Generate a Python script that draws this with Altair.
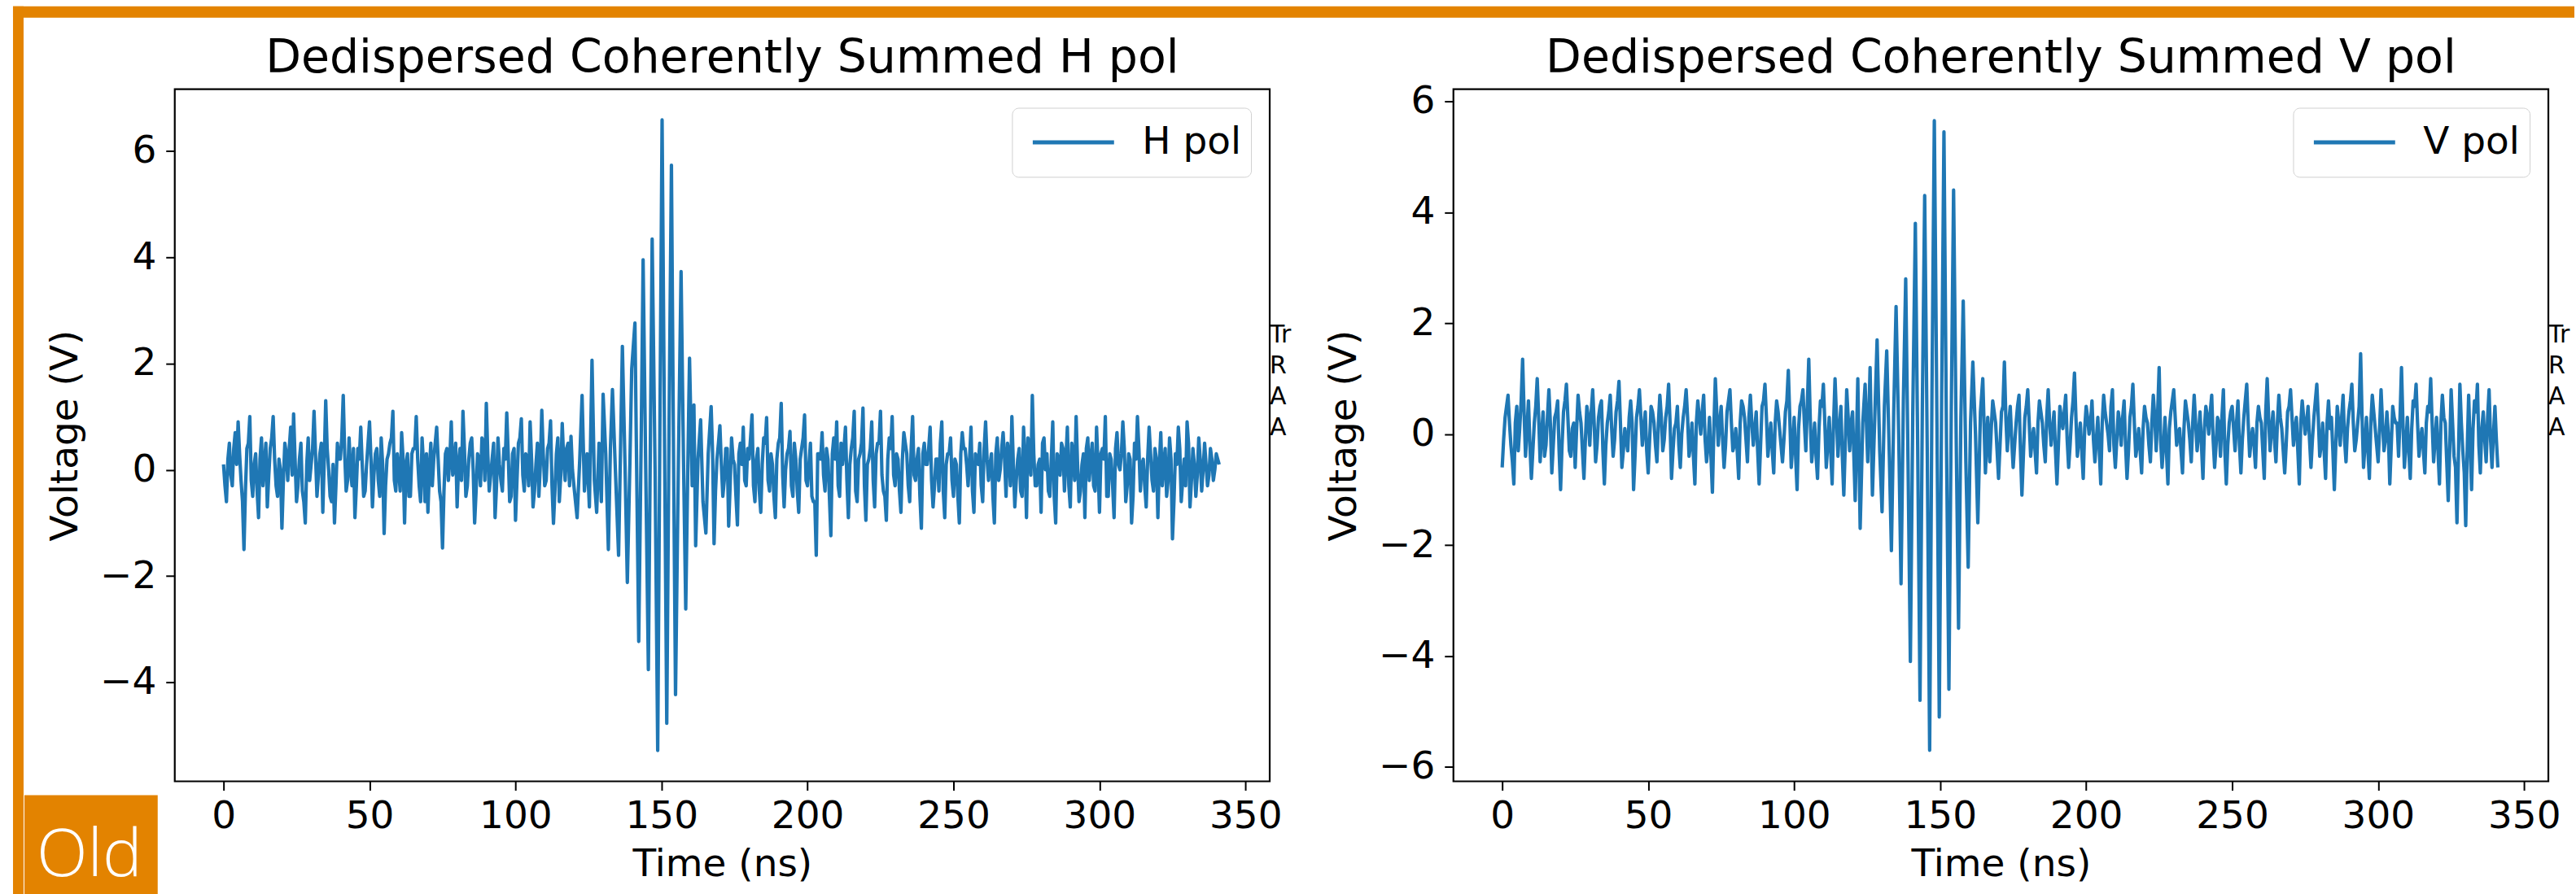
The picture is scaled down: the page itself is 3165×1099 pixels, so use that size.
import altair as alt
import pandas as pd

# ---------------- data ----------------
X_TICKS = [0, 50, 100, 150, 200, 250, 300, 350]
H_YTICKS = [-4, -2, 0, 2, 4, 6]
V_YTICKS = [-6, -4, -2, 0, 2, 4, 6]
X_DOMAIN = [-16.7, 358.3]
H_YDOMAIN = [-5.86, 7.16]
V_YDOMAIN = [-6.26, 6.22]

# H pol: noise before the pulse, samples at t = 0, 1, 2, ... ns
H_EARLY = [0.1, -0.6, 0.5, -0.3, 0.7, 0.9, -0.2, -1.5, 0.4, 1.0,
           -0.5, 0.3, -0.9, 0.6, 0.1, -0.7, 0.4, 1.0, -0.3, 0.2,
           -1.1, 0.5, -0.2, 0.8, 1.05, -0.6, 0.2, -0.4, -1.0, 0.6,
           0.1, 1.1, -0.5, 0.3, -0.8, 1.3, 0.0, -0.6, -1.0, 0.5,
           0.2, 1.4, -0.4, 0.6, -0.3, -0.9, 0.4, 0.8, -0.5, 0.1,
           0.9, -0.7, 0.3, -0.2, 0.6, -1.2, 0.2, 0.5, 1.1, -0.4,
           0.0, 0.7, -1.0, 0.3, -0.5, 0.4, 1.0, -0.3, 0.6, -0.6,
           -0.8, 0.5, 0.2, 0.8, -0.4, -1.47, 0.3, -0.2, 0.9, 0.1,
           -0.7, 0.4, 1.1, -0.5, 0.2, 0.6, -1.0, 0.3, -0.3, 0.5,
           1.25, -0.4, 0.2, -0.9, 0.6, -0.2, 0.4, 1.07, -0.6, 0.3,
           -0.95, 0.5, 0.96, -0.4, 0.2, 0.9, -0.7, 0.1, -0.5, 1.12,
           -0.3, 0.4, 0.92, -1.01, 0.3, -0.6, 0.87, -0.2, 0.5, 0.63]
# H pol: samples in between, at t = 0.5, 1.5, 2.5, ... ns
H_EARLY_MID = [-0.3, 0.2, -0.1, 0.4, 0.1, 0.3, -0.6, -0.4, 0.5, -0.2,
               0.1, -0.4, 0.2, -0.3, 0.5, -0.1, 0.6, 0.2, -0.5, 0.0,
               -0.2, 0.3, 0.4, -0.1, 0.2, -0.3, 0.5, -0.6, 0.1, -0.2,
               0.4, 0.3, -0.1, 0.5, 0.2, 0.4, -0.5, 0.1, -0.3, 0.2,
               0.6, 0.3, -0.2, 0.0, 0.4, -0.3, 0.2, 0.1, -0.4, 0.5,
               0.2, -0.1, 0.4, -0.5, 0.1, -0.3, 0.3, 0.6, -0.2, 0.3,
               -0.4, 0.2, 0.1, -0.5, 0.3, 0.4, 0.2, -0.6, 0.1, 0.3,
               0.0, -0.3, 0.5, 0.2, -0.6, -0.4, 0.4, 0.2, -0.1, 0.5,
               0.1, -0.2, 0.4, -0.3, 0.5, 0.0, -0.4, 0.2, 0.6, -0.2,
               0.3, -0.1, 0.5, -0.3, 0.1, -0.4, 0.2, 0.3, -0.5, 0.4,
               -0.2, 0.6, -0.1, 0.3, -0.3, 0.2, -0.4, 0.5, 0.1, 0.3,
               -0.2, 0.5, -0.3, -0.4, 0.6, -0.1, 0.2, 0.4, -0.3, 0.0]
# H pol: the pulse, read at finer times
H_PULSE_T = [120.0, 121.1, 122.0, 122.8, 123.6, 124.5, 125.3, 126.2, 127.0, 127.8,
             128.6, 129.4, 130.0, 130.9, 131.8, 132.5, 133.2, 134.2, 135.3, 136.0,
             136.6, 137.5, 138.3, 139.2, 139.8, 140.9, 141.6, 142.2, 143.0, 143.7,
             144.6, 145.5, 146.2, 146.8, 147.8, 148.7, 149.5, 150.2, 151.0, 151.8,
             152.6, 153.4, 154.1, 154.8, 155.8, 156.7, 157.5, 158.3, 159.0, 159.6,
             160.5, 161.1, 161.7, 162.5, 163.4, 164.2, 165.2, 166.0]
H_PULSE_V = [-0.3, -0.9, 0.2, 1.40, -0.4, 0.3, -0.7, 2.06, -0.2, -0.8,
             0.5, -0.6, 1.42, 0.3, -1.50, 0.4, 1.51, 0.0, -1.61, 0.5,
             2.32, 0.1, -2.12, 0.2, 1.9, 2.76, -0.5, -3.23, 0.4, 3.95,
             0.0, -3.76, 0.6, 4.34, 0.0, -5.28, 1.2, 6.58, 0.8, -4.77,
             0.9, 5.73, 0.4, -4.23, 0.2, 3.73, 0.3, -2.62, 0.0, 2.10,
             -0.3, 1.22, -1.43, 0.2, 0.94, -0.6, -1.19, 0.3]
# H pol: noise after the pulse, samples at t = 167, 168, ... ns
H_LATE = [1.19, -1.39, 0.2, 0.83, -0.5, 0.4, -1.06, 0.6, 0.1, -1.04,
          0.5, 0.8, -0.3, 0.2, 1.03, -0.6, 0.4, -0.8, 0.6, 0.98,
          -0.4, 0.1, -0.9, 0.5, 1.25, -0.7, 0.3, 0.72, -0.5, 0.2,
          -0.8, 0.4, 1.03, -0.3, 0.5, -0.6, -1.61, 0.3, 0.7, -0.4,
          0.2, -1.24, 0.6, 0.9, -0.5, 0.1, 0.8, -0.9, 0.4, 1.1,
          -0.6, 0.3, 1.16, -0.95, 0.2, 0.9, -0.7, 0.5, 1.1, -0.4,
          -0.95, 0.6, 1.0, -0.3, 0.2, -0.8, 0.7, 0.3, -0.6, 1.0,
          -0.2, 0.4, -1.1, 0.5, 0.1, 0.8, -0.7, 0.2, -0.4, 0.9,
          -0.9, 0.3, 0.6, -0.5, 0.1, -1.0, 0.7, 0.4, -0.3, 0.8,
          -0.8, 0.2, 0.5, -0.6, 0.9, -0.2, 0.3, -1.0, 0.6, 0.0,
          0.7, -0.5, 0.3, 1.0, -0.7, 0.2, -0.4, 0.8, -0.9, 0.4,
          1.4, -0.3, 0.1, -0.8, 0.6, 0.3, -0.5, 0.9, -1.0, 0.2,
          0.5, -0.4, 0.8, -0.7, 0.3, 1.0, -0.6, 0.1, -0.9, 0.6,
          0.2, -0.3, 0.8, -0.8, 0.4, 1.0, -0.5, 0.2, -0.9, 0.7,
          0.0, 0.9, -0.6, 0.3, -1.0, 0.5, 1.0, -0.4, 0.2, -0.7,
          0.8, -0.2, 0.4, -0.9, 0.7, 0.1, -0.5, 0.6, -1.3, 0.3,
          0.8, -0.6, 0.2, 0.9, -0.7, 0.4, -0.5, 0.6, -0.4, 0.5,
          -0.3, 0.4, -0.2, 0.3, 0.1]
# H pol: samples in between, at t = 167.5, 168.5, ... ns
H_LATE_MID = [0.3, -0.4, 0.5, 0.1, -0.2, 0.4, -0.3, 0.2, -0.5, 0.3,
              0.1, -0.2, 0.4, 0.6, -0.3, 0.2, -0.4, 0.1, 0.5, -0.2,
              0.3, -0.5, 0.2, 0.6, -0.1, 0.0, 0.4, -0.3, 0.5, -0.4,
              0.2, 0.6, -0.2, 0.1, -0.5, -0.6, 0.3, 0.2, -0.1, 0.4,
              -0.5, 0.3, 0.2, -0.3, 0.5, 0.4, -0.2, 0.1, 0.6, -0.4,
              0.2, 0.5, -0.3, 0.1, 0.4, -0.2, 0.3, 0.5, -0.1, -0.5,
              0.2, 0.4, -0.1, 0.3, -0.4, 0.2, 0.5, -0.3, 0.4, -0.1,
              0.2, -0.5, 0.3, 0.1, 0.4, -0.2, -0.3, 0.2, 0.5, -0.4,
              0.1, 0.3, -0.2, 0.2, -0.5, 0.3, 0.4, 0.1, 0.2, -0.4,
              0.3, 0.1, -0.3, 0.4, 0.2, 0.1, -0.5, 0.3, -0.2, 0.4,
              0.2, 0.5, -0.3, 0.1, -0.2, 0.4, -0.5, 0.2, 0.6, -0.1,
              0.3, -0.3, 0.2, 0.5, 0.0, -0.4, 0.2, -0.5, 0.3, -0.1,
              0.4, 0.2, -0.3, 0.5, -0.2, 0.1, -0.4, 0.3, 0.4, -0.2,
              0.5, -0.4, 0.1, 0.3, 0.2, -0.5, 0.3, -0.3, 0.4, 0.1,
              0.3, 0.4, -0.3, 0.2, -0.5, 0.2, 0.4, 0.1, -0.3, 0.2,
              0.3, -0.4, 0.2, 0.1, -0.3, 0.4, -0.2, 0.2, -0.6, 0.1,
              0.4, -0.2, -0.3, 0.5, -0.2, 0.1, -0.1, 0.2, 0.0, 0.1,
              -0.1, 0.2, 0.0, 0.2]

# V pol
V_EARLY = [-0.6, 0.3, 0.7, -0.2, -0.9, 0.5, 0.1, 1.35, -0.4, 0.6,
           -0.8, 0.2, 1.0, -0.5, 0.4, -0.2, 0.8, -0.7, 0.3, 0.6,
           -1.0, 0.4, 0.9, -0.3, 0.1, -0.6, 0.7, 0.2, -0.8, 0.5,
           -0.2, 0.8, -0.5, 0.3, 0.6, -0.9, 0.2, 0.7, -0.4, 0.4,
           0.95, -0.6, 0.1, -0.3, 0.6, -1.0, 0.3, 0.8, -0.2, 0.4,
           -0.7, 0.5, 0.2, -0.5, 0.7, -0.3, 0.3, 0.9, -0.8, 0.1,
           0.5, -0.6, 0.3, 0.8, -0.4, 0.2, -0.9, 0.6, 0.0, 0.7,
           -0.5, 0.3, -1.05, 1.0, -0.2, 0.5, -0.6, 0.4, 0.8, -0.3,
           0.1, -0.8, 0.6, 0.3, -0.5, 0.7, -0.2, 0.4, -0.9, 0.5,
           0.9, -0.4, 0.2, -0.7, 0.6, 0.1, -0.5, 0.4, 1.15, -0.6,
           0.3, -1.0, 0.5, 0.8, -0.3, 1.35, -0.5, 0.2, -0.8, 0.6,
           0.9, -0.6, 0.3, -0.9, 1.0, -0.4, 0.5, -1.1, 0.8, -0.3]
V_EARLY_MID = [-0.1, 0.5, 0.2, -0.5, 0.2, -0.3, 0.6, 0.4, 0.1, -0.2,
               -0.3, 0.5, 0.3, 0.0, -0.4, 0.3, 0.2, -0.2, 0.4, -0.3,
               -0.2, 0.6, 0.3, -0.4, 0.2, 0.1, 0.4, -0.3, -0.1, 0.3,
               0.4, 0.2, -0.2, 0.5, -0.3, -0.2, 0.4, 0.1, -0.1, 0.6,
               0.2, -0.3, -0.1, 0.3, 0.2, -0.4, 0.5, 0.3, 0.1, -0.3,
               -0.1, 0.4, -0.2, 0.2, 0.3, -0.1, 0.5, 0.2, -0.3, 0.2,
               -0.2, 0.0, 0.5, 0.3, -0.2, -0.4, 0.2, 0.3, 0.4, -0.1,
               -0.2, -0.4, 0.1, 0.4, 0.2, -0.1, -0.2, 0.6, 0.2, -0.2,
               -0.3, 0.2, 0.5, -0.1, 0.3, 0.2, 0.1, -0.3, -0.2, 0.6,
               0.3, -0.1, -0.3, 0.2, 0.4, -0.2, -0.1, 0.6, 0.3, -0.2,
               -0.4, 0.1, 0.6, 0.2, 0.5, 0.3, -0.2, -0.4, 0.1, 0.5,
               0.2, -0.2, -0.3, 0.2, 0.3, 0.1, -0.4, -0.2, 0.3, 0.2]
V_PULSE_T = [120.0, 120.9, 121.8, 122.6, 123.5, 124.3, 125.2, 126.0, 126.8, 127.6,
             128.4, 129.3, 130.1, 130.9, 131.7, 132.6, 133.3, 134.1, 134.9, 135.8,
             136.6, 137.4, 138.2, 139.0, 139.8, 140.6, 141.5, 142.3, 143.1, 143.9,
             144.7, 145.6, 146.4, 147.2, 148.0, 148.9, 149.7, 150.5, 151.3, 152.2,
             153.0, 153.8, 154.6, 155.5, 156.3, 157.1, 157.9, 158.8, 159.6, 160.4,
             161.2, 162.1, 162.9, 163.8, 164.6, 165.5, 166.3]
V_PULSE_V = [0.4, -1.2, 1.0, -1.7, 0.2, 0.9, -0.5, 1.2, -1.1, 0.3,
             1.7, -0.3, -1.4, 0.5, 1.5, -0.4, -2.1, 0.4, 2.3, 0.0,
             -2.7, 0.6, 2.8, -0.5, -4.1, 0.3, 3.8, -0.2, -4.8, 0.5,
             4.3, -0.4, -5.7, 0.8, 5.65, 0.2, -5.1, 0.6, 5.45, -0.3,
             -4.6, 0.4, 4.4, -0.1, -3.5, 0.3, 2.4, -0.5, -2.4, 0.2,
             1.3, 0.0, -1.6, 0.4, 1.0, -0.7, 0.3]
V_LATE = [-0.5, 0.6, 0.2, -0.8, 0.4, 1.3, -0.3, 0.5, -0.6, 0.2,
          0.7, -1.1, 0.3, 0.8, -0.4, 0.1, -0.7, 0.6, 0.2, -0.5,
          0.8, -0.2, 0.4, -0.9, 0.5, 0.1, 0.7, -0.6, 0.3, 1.1,
          -0.4, 0.2, -0.8, 0.5, 0.0, 0.6, -0.5, 0.3, -0.9, 0.7,
          0.2, -0.3, 0.8, -0.6, 0.4, -0.2, 0.6, -0.8, 0.3, 0.9,
          -0.4, 0.1, -0.7, 0.5, 0.2, -0.5, 0.7, -0.3, 1.2, -0.6,
          0.3, -0.9, 0.4, 0.8, -0.2, 0.1, -0.7, 0.6, 0.2, -0.5,
          0.7, -0.3, 0.4, -0.8, 0.5, 0.0, 0.7, -0.6, 0.3, -0.4,
          0.8, -0.9, 0.2, 0.5, -0.3, 0.6, -0.7, 0.3, 0.9, -0.4,
          0.1, -0.6, 0.5, 0.2, -0.8, 1.0, -0.3, 0.4, -0.5, 0.7,
          0.1, -0.7, 0.4, 0.8, -0.2, 0.3, -0.9, 0.6, 0.0, 0.5,
          -0.6, 0.3, 0.9, -0.4, 0.2, -0.8, 0.6, 0.3, -1.0, 0.5,
          -0.2, 0.7, -0.5, 0.4, 0.9, -0.3, 0.2, 1.45, -0.6, 0.3,
          -0.8, 0.7, 0.1, -0.5, 0.8, -0.3, 0.4, -0.9, 0.5, 0.2,
          -0.4, 1.2, -0.6, 0.3, -0.8, 0.6, 0.9, -0.4, 0.1, -0.7,
          0.5, 1.0, -0.5, 0.3, -0.9, 0.7, 0.2, -1.2, 0.8, -0.4,
          -1.6, 0.9, -0.3, -1.65, 0.7, -1.0, 0.6, 0.9, -0.7, 0.4,
          -0.5, 0.8, -0.6, 0.5, -0.6]
V_LATE_MID = [0.1, 0.4, -0.3, -0.2, 0.5, 0.3, 0.2, -0.1, -0.2, 0.5,
              -0.3, -0.4, 0.5, 0.2, -0.1, -0.3, 0.2, 0.4, -0.2, 0.3,
              0.2, 0.1, -0.3, -0.2, 0.3, 0.4, -0.1, -0.2, 0.6, 0.3,
              -0.1, -0.3, 0.1, 0.3, 0.2, -0.1, -0.1, -0.3, 0.2, 0.4,
              0.0, 0.5, -0.2, -0.1, 0.2, 0.3, -0.2, -0.3, 0.5, 0.2,
              -0.2, -0.3, 0.1, 0.3, -0.2, 0.2, 0.3, 0.4, -0.1, -0.2,
              -0.3, 0.1, 0.6, 0.3, 0.0, -0.3, 0.1, 0.4, -0.1, 0.2,
              0.2, 0.0, -0.2, 0.1, 0.3, 0.4, -0.1, -0.2, 0.2, 0.3,
              -0.3, -0.2, 0.4, 0.1, 0.2, -0.2, -0.1, 0.6, 0.2, -0.1,
              -0.2, 0.2, 0.3, -0.3, 0.4, 0.3, 0.1, -0.1, 0.2, 0.3,
              -0.3, -0.2, 0.5, 0.3, 0.1, -0.3, 0.2, 0.3, 0.2, -0.1,
              -0.1, 0.6, 0.3, -0.2, -0.3, 0.2, 0.1, -0.3, -0.2, 0.2,
              0.3, -0.1, 0.1, 0.6, 0.2, -0.1, 0.5, 0.3, -0.2, -0.3,
              0.2, 0.4, -0.2, 0.1, 0.2, -0.1, 0.0, -0.2, 0.3, 0.2,
              0.3, 0.2, -0.2, -0.3, 0.1, 0.5, 0.2, -0.1, -0.3, 0.2,
              0.4, 0.2, -0.1, -0.3, 0.2, 0.3, -0.5, -0.3, 0.2, -0.6,
              -0.4, 0.2, -0.7, -0.3, -0.2, 0.1, 0.4, -0.2, 0.1, -0.1,
              0.3, -0.1, 0.0, -0.1]

ANN_LINES = ["Triggered", "Received", "Average", "Angle"]

# ---------------- styling ----------------
FONT = "DejaVu Sans"
ORANGE = "#E38300"
BLUE = "#1f77b4"
W, H = 1347, 852
LATE_START = 167


def series(early, early_mid, pt, pv, late, late_mid):
    t = (list(range(len(early)))
         + [i + 0.5 for i in range(len(early_mid))]
         + list(pt)
         + list(range(LATE_START, LATE_START + len(late)))
         + [LATE_START + i + 0.5 for i in range(len(late_mid))])
    v = list(early) + list(early_mid) + list(pv) + list(late) + list(late_mid)
    return pd.DataFrame({"t": t, "v": v}).sort_values("t")


one = pd.DataFrame({"a": [0]})


def panel(df, label, title, ydom, yticks, ann_limit, decorate=False):
    df = df.assign(s=label)
    line = alt.Chart(df).mark_line(strokeWidth=4.2, strokeJoin="round").encode(
        x=alt.X("t:Q",
                scale=alt.Scale(domain=X_DOMAIN, nice=False, zero=False),
                axis=alt.Axis(values=X_TICKS, title="Time (ns)", titleY=116,
                              titleBaseline="alphabetic", labelFlush=False,
                              labelOverlap=False, labelPadding=9)),
        y=alt.Y("v:Q",
                scale=alt.Scale(domain=ydom, nice=False, zero=False),
                axis=alt.Axis(values=yticks, title="Voltage (V)", titleX=-120,
                              titleBaseline="alphabetic", labelOverlap=False,
                              labelPadding=12)),
        order=alt.Order("t:Q"),
        color=alt.Color("s:N", scale=alt.Scale(range=[BLUE]),
                        legend=alt.Legend(title=None, orient="top-right", offset=23,
                                          padding=12, clipHeight=61,
                                          fillColor="rgba(255,255,255,0.8)",
                                          strokeColor="#d0d0d0", cornerRadius=8,
                                          symbolType="M-1,0H9", symbolSize=400,
                                          symbolStrokeWidth=5, labelFont=FONT,
                                          labelFontSize=47, labelColor="black",
                                          labelOffset=101)),
    )
    ttl = alt.Chart(one).mark_text(text=title, font=FONT, fontSize=57, color="black",
                                   align="center", baseline="alphabetic").encode(
        x=alt.value(W / 2), y=alt.value(-21))
    ann = alt.Chart(one).mark_text(align="left", baseline="top", font=FONT, fontSize=30,
                                   lineHeight=38, limit=ann_limit, ellipsis="\u200b",
                                   color="black").encode(
        x=alt.value(W), y=alt.value(288), text=alt.value(ANN_LINES))
    layers = []
    if decorate:
        layers += [
            alt.Chart(one).mark_rect(color=ORANGE).encode(
                x=alt.value(-199), x2=alt.value(-186), y=alt.value(-102), y2=alt.value(992)),
            alt.Chart(one).mark_rect(color=ORANGE).encode(
                x=alt.value(-199), x2=alt.value(2952), y=alt.value(-102), y2=alt.value(-88)),
            alt.Chart(one).mark_rect(color=ORANGE).encode(
                x=alt.value(-185), x2=alt.value(-21), y=alt.value(869), y2=alt.value(992)),
            alt.Chart(one).mark_text(text="Old", color="white", font="Open Sans",
                                     fontSize=82, fontWeight=300, align="left",
                                     baseline="alphabetic").encode(
                x=alt.value(-170), y=alt.value(969)),
        ]
    layers += [line, ttl, ann]
    return alt.layer(*layers).properties(width=W, height=H)


left = panel(series(H_EARLY, H_EARLY_MID, H_PULSE_T, H_PULSE_V, H_LATE, H_LATE_MID),
             "H pol", "Dedispersed Coherently Summed H pol", H_YDOMAIN, H_YTICKS, 32,
             decorate=True)
right = panel(series(V_EARLY, V_EARLY_MID, V_PULSE_T, V_PULSE_V, V_LATE, V_LATE_MID),
              "V pol", "Dedispersed Coherently Summed V pol", V_YDOMAIN, V_YTICKS, 31.5)

chart = alt.hconcat(left, right, spacing=226, bounds="flush").resolve_scale(
    color="independent").properties(
    padding={"left": 14, "top": 5, "right": 0, "bottom": 0},
    background="white",
).configure(font=FONT).configure_view(
    stroke="black", strokeWidth=2.2
).configure_axis(
    grid=False, domain=False, ticks=True, tickColor="black", tickWidth=2, tickSize=11,
    labelFont=FONT, labelFontSize=47, labelColor="black",
    titleFont=FONT, titleFontSize=47, titleFontWeight="normal", titleColor="black",
)

chart.save("out.html", embed_options={"renderer": "svg", "actions": False})
